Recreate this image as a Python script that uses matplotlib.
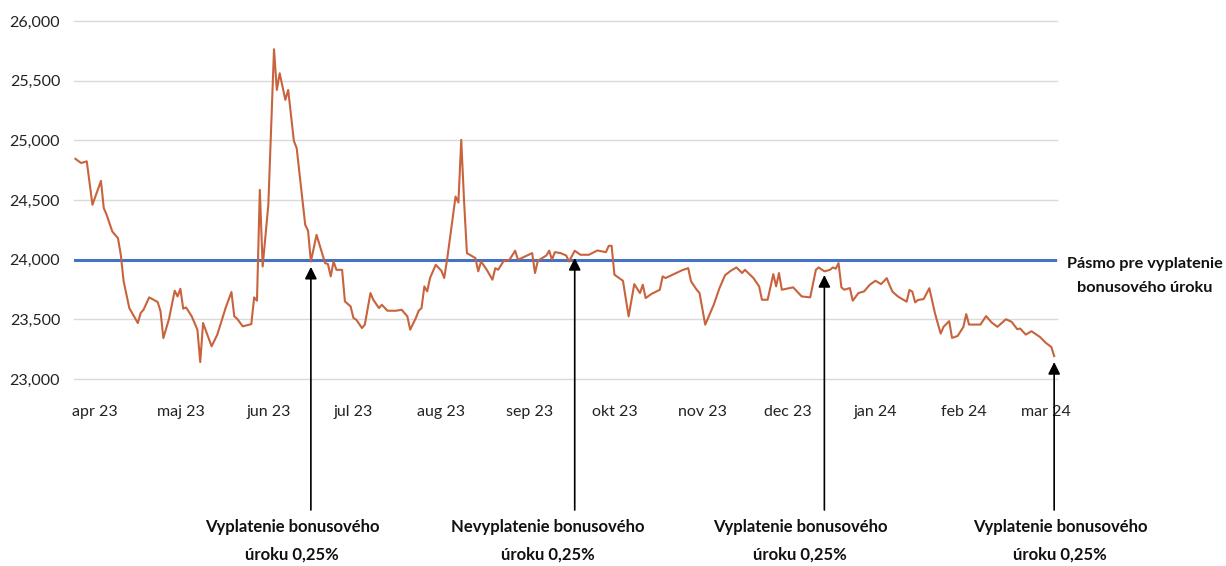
import matplotlib
matplotlib.use("Agg")
import matplotlib.pyplot as plt

# days counted from 1 Apr 2023
days = [-7, -5, -3, -1, 2, 3, 4, 6, 8, 9, 10, 12, 15, 16, 17, 19, 22, 23, 24, 26,
        28, 29, 30, 31, 32, 34, 36, 37, 38, 41, 43, 45, 46, 48, 49, 50, 52, 55, 56, 57,
        58, 59, 61, 63, 64, 65, 67, 68, 70, 71, 74, 75, 76, 78, 81, 82, 83, 84, 85, 87,
        88, 90, 91, 92, 94, 95, 97, 98, 100, 101, 103, 106, 108, 110, 111, 113, 114, 115, 116, 117,
        118, 120, 122, 123, 124, 127, 128, 129, 130, 131, 133, 134, 135, 136, 138, 140, 141, 142, 144, 146,
        148, 149, 154, 155, 156, 159, 160, 161, 162, 164, 166, 167, 169, 171, 174, 177, 180, 181, 182, 183,
        186, 188, 190, 192, 193, 194, 196, 199, 200, 201, 204, 207, 209, 210, 212, 213, 215, 218, 220, 222,
        224, 226, 228, 229, 232, 234, 235, 237, 239, 240, 241, 242, 246, 249, 252, 254, 255, 257, 259, 260,
        261, 262, 263, 264, 266, 267, 269, 271, 273, 275, 277, 279, 280, 281, 283, 286, 287, 288, 289, 290,
        292, 294, 296, 298, 299, 301, 302, 304, 306, 307, 308, 312, 314, 316, 318, 321, 323, 325, 326, 328,
        330, 333, 335, 337, 338]
values = [24845, 24810, 24824, 24460, 24660, 24432, 24376, 24236, 24180, 24040, 23818, 23594, 23469, 23553, 23580, 23684, 23645, 23567, 23343, 23505,
          23740, 23692, 23756, 23589, 23600, 23525, 23413, 23142, 23469, 23274, 23371, 23525, 23600, 23729, 23525, 23505, 23441, 23460, 23684, 23656,
          24585, 23943, 24460, 25763, 25422, 25562, 25339, 25422, 24995, 24934, 24292, 24242, 23985, 24208, 23971, 23963, 23860, 23985, 23915, 23915,
          23650, 23608, 23511, 23497, 23427, 23455, 23720, 23664, 23594, 23622, 23572, 23572, 23580, 23525, 23413, 23511, 23572, 23594, 23776, 23734,
          23846, 23957, 23907, 23846, 23999, 24529, 24479, 25004, 24488, 24055, 24027, 24013, 23902, 23985, 23915, 23832, 23929, 23915, 23991, 23999,
          24075, 23999, 24055, 23888, 23991, 24035, 24075, 23999, 24063, 24055, 24035, 23985, 24075, 24041, 24041, 24077, 24063, 24116, 24116, 23874,
          23823, 23525, 23795, 23720, 23790, 23678, 23712, 23748, 23860, 23846, 23879, 23913, 23929, 23818, 23748, 23720, 23455, 23622, 23760, 23870,
          23907, 23935, 23888, 23915, 23846, 23776, 23664, 23664, 23879, 23776, 23888, 23748, 23768, 23692, 23684, 23915, 23935, 23902, 23915, 23935,
          23924, 23971, 23768, 23748, 23762, 23656, 23720, 23734, 23790, 23823, 23795, 23845, 23785, 23732, 23690, 23648, 23746, 23732, 23642, 23662,
          23670, 23761, 23549, 23380, 23437, 23485, 23344, 23361, 23437, 23544, 23456, 23456, 23527, 23473, 23437, 23501, 23479, 23417, 23423, 23372,
          23400, 23352, 23304, 23268, 23192]

band_days = [-7.5, 339]
band_values = [24000, 24000]

month_days = [0, 30, 61, 91, 122, 153, 183, 214, 244, 275, 306, 335]
month_labels = ["apr 23", "maj 23", "jun 23", "jul 23", "aug 23", "sep 23",
                "okt 23", "nov 23", "dec 23", "jan 24", "feb 24", "mar 24"]
yticks = [23000, 23500, 24000, 24500, 25000, 25500, 26000]

# arrows: point on the line, and label placed under the axis
arrow_days = [76, 169, 257, 338]
arrow_values = [23940, 24014, 23871, 23142]
arrow_texts = ["Vyplatenie bonusového\núroku 0,25%",
               "Nevyplatenie bonusového\núroku 0,25%",
               "Vyplatenie bonusového\núroku 0,25%",
               "Vyplatenie bonusového\núroku 0,25%"]
text_x_px = [292, 548, 800, 1060]

plt.rcParams["font.family"] = ["Lato", "DejaVu Sans"]

W, H = 1226, 566
fig = plt.figure(figsize=(W / 100, H / 100), dpi=100)
ax = fig.add_axes([74 / W, 1 - 379 / H, (1057 - 74) / W, (379 - 21) / H])

ax.plot(band_days, band_values, color="#4472C4", lw=2.2, zorder=3)
ax.plot(days, values, color="#C8633E", lw=1.5, zorder=4)

ax.set_xlim(-7.5, 339)
ax.set_ylim(23000, 26000)
ax.set_yticks(yticks)
ax.set_yticklabels([f"{v:,}" for v in yticks])
ax.set_xticks(month_days)
ax.set_xticklabels(month_labels)
ax.tick_params(length=0, labelsize=11.5, colors="#222222")
ax.tick_params(axis="y", pad=10)
ax.tick_params(axis="x", pad=19)
ax.grid(axis="y", color="#DADADA", lw=1)
for gl in ax.get_ygridlines():
    gl.set_clip_on(False)
ax.set_axisbelow(True)
for s in ax.spines.values():
    s.set_visible(False)

for d, v, t, tx in zip(arrow_days, arrow_values, arrow_texts, text_x_px):
    ax.annotate("", xy=(d, v), xycoords="data",
                xytext=(d, H - 510), textcoords=("data", "figure pixels"),
                arrowprops=dict(arrowstyle="-|>", color="black", lw=1.2,
                                mutation_scale=18, shrinkA=0, shrinkB=0))
    fig.text(tx / W, 1 - 541 / H, t, ha="center", va="center",
             fontsize=12, fontweight="bold", linespacing=1.85, color="#111111")

fig.text(1145 / W, 1 - 276 / H, "Pásmo pre vyplatenie\nbonusového úroku",
         ha="center", va="center", fontsize=11.7, fontweight="bold",
         linespacing=1.85, color="#111111")

fig.savefig("out.png", dpi=100)
